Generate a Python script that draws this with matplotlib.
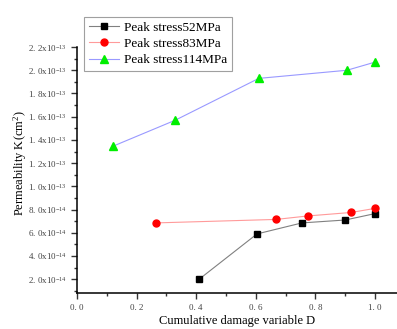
import matplotlib
matplotlib.use("Agg")
import math
import matplotlib.pyplot as plt
from matplotlib.ticker import MultipleLocator, FuncFormatter

d52 = [0.41, 0.604, 0.755, 0.90, 1.0]
k52 = [2.0e-14, 5.9e-14, 6.85e-14, 7.1e-14, 7.65e-14]
d83 = [0.265, 0.668, 0.775, 0.92, 1.0]
k83 = [6.85e-14, 7.15e-14, 7.45e-14, 7.75e-14, 8.1e-14]
d114 = [0.12, 0.33, 0.61, 0.906, 1.0]
k114 = [1.345e-13, 1.57e-13, 1.93e-13, 2.0e-13, 2.07e-13]
labels = ["Peak stress52MPa", "Peak stress83MPa", "Peak stress114MPa"]

plt.rcParams['font.family'] = ['Liberation Serif', 'DejaVu Serif']
plt.rcParams['mathtext.fontset'] = 'custom'
plt.rcParams['mathtext.rm'] = 'Liberation Serif'
plt.rcParams['mathtext.it'] = 'Liberation Serif'

fig = plt.figure(figsize=(3.97, 3.29), dpi=100)
ax = fig.add_axes([0.194, 0.109, 0.806, 0.748])

ax.plot(d52, k52, color='#808080', lw=0.8, marker='s', ms=4.2, mfc='black', mec='black', label=labels[0])
ax.plot(d83, k83, color='#ff9a9a', lw=0.8, marker='o', ms=5, mfc='red', mec='red', label=labels[1])
ax.plot(d114, k114, color='#9999ff', lw=0.8, marker='^', ms=5.5, mfc='#00ee00', mec='#00ee00', label=labels[2])

ax.set_xlim(0, 1.074)
ax.set_ylim(0.8e-14, 2.2e-13)
ax.xaxis.set_major_locator(MultipleLocator(0.2))
ax.xaxis.set_minor_locator(MultipleLocator(0.1))
ax.yaxis.set_major_locator(MultipleLocator(2e-14))
ax.yaxis.set_minor_locator(MultipleLocator(1e-14))

def yfmt(v, pos):
    if v <= 0:
        return ''
    e = int(math.floor(math.log10(v) + 1e-9))
    m = v / 10**e
    return ("%.1f" % m).replace('.', '. ') + r"x10$^{%d}$" % e

ax.yaxis.set_major_formatter(FuncFormatter(yfmt))
ax.xaxis.set_major_formatter(FuncFormatter(lambda v, p: ("%.1f" % v).replace('.', '. ')))

for s in ['top', 'right']:
    ax.spines[s].set_visible(False)
for s in ['left', 'bottom']:
    ax.spines[s].set_linewidth(1.1)
ax.tick_params(which='major', direction='out', length=4, width=1, labelsize=6.5, colors='#333333', labelcolor='#444444')
ax.tick_params(which='minor', direction='out', length=2, width=1, colors='#333333')

ax.set_xlabel("Cumulative damage variable D", fontsize=9)
ax.xaxis.set_label_coords(0.5, -0.088)
ax.set_ylabel("Permeability K(cm$^{2}$)", fontsize=9)
ax.yaxis.set_label_coords(-0.15, 0.53)

leg = ax.legend(loc='upper left', bbox_to_anchor=(84 / 397, 1 - 17 / 329), bbox_transform=fig.transFigure,
                fontsize=9.5, frameon=True, fancybox=False, edgecolor='#888888', handlelength=2.3,
                borderpad=0.35, labelspacing=0.3, handletextpad=0.4, borderaxespad=0)
leg.get_frame().set_linewidth(0.8)

fig.savefig("out.png", dpi=100)
